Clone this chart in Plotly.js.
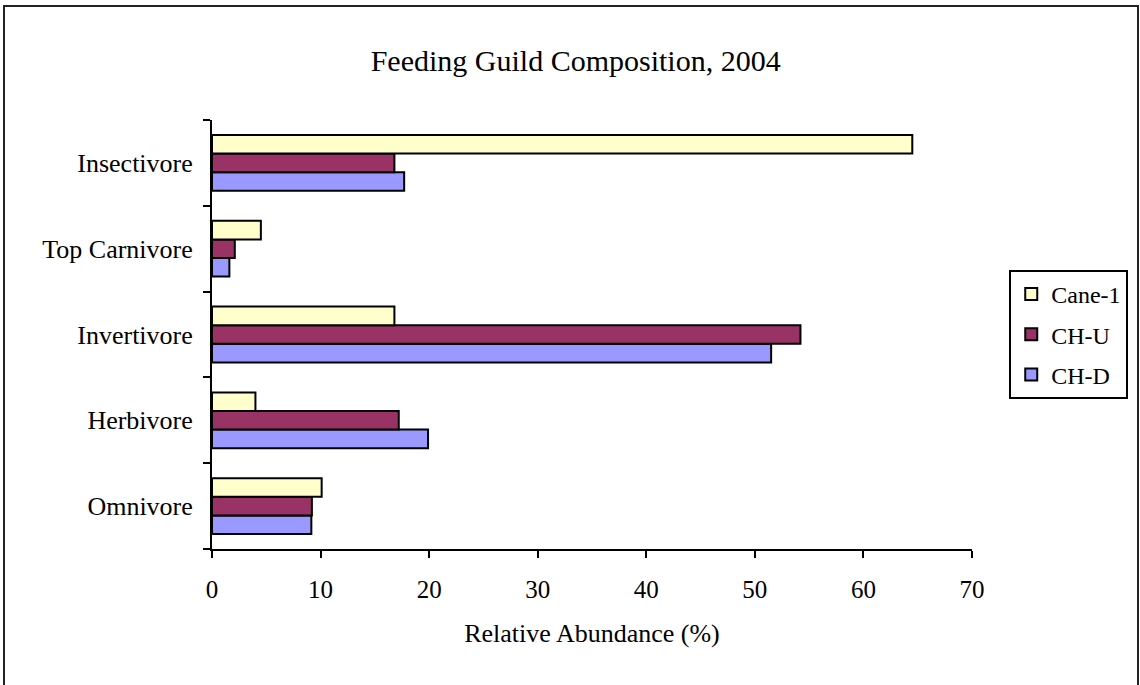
<!DOCTYPE html>
<html>
<head>
<meta charset="utf-8">
<script src="https://cdn.plot.ly/plotly-3.0.1.min.js"></script>
<style>
html,body{margin:0;padding:0;background:#fff;overflow:hidden;}
#chart{width:1140px;height:685px;}
#frame{position:absolute;left:3px;top:5px;width:1132px;height:720px;border:2px solid #222;pointer-events:none;}
</style>
</head>
<body>
<div id="chart"></div>
<div id="frame"></div>
<script>
const categories = ["Omnivore", "Herbivore", "Invertivore", "Top Carnivore", "Insectivore"];
const cane1 = [10.1, 4.0, 16.8, 4.5, 64.5];
const chU = [9.2, 17.2, 54.2, 2.1, 16.8];
const chD = [9.15, 19.9, 51.5, 1.6, 17.7];
const xTicks = [0, 10, 20, 30, 40, 50, 60, 70];

const serif = "Liberation Serif, Times New Roman, serif";
const line = {color: "#000", width: 2};

const traces = [
  {type: "bar", orientation: "h", name: "CH-D", legendgroup: "c", legendrank: 3, y: categories, x: chD, marker: {color: "#9999FF", line: line}},
  {type: "bar", orientation: "h", name: "CH-U", legendgroup: "b", legendrank: 2, y: categories, x: chU, marker: {color: "#993366", line: line}},
  {type: "bar", orientation: "h", name: "Cane-1", legendgroup: "a", legendrank: 1, y: categories, x: cane1, marker: {color: "#FFFFCC", line: line}}
];

const layout = {
  width: 1140, height: 685,
  margin: {l: 212, r: 165, t: 120, b: 136},
  paper_bgcolor: "#fff", plot_bgcolor: "#fff",
  font: {family: serif, color: "#000", size: 26},
  barmode: "group", bargap: 0.35, bargroupgap: 0,
  title: {text: "Feeding Guild Composition, 2004", font: {family: serif, size: 30, color: "#000"}, x: 0.505, xanchor: "center", y: 0.912, yanchor: "middle"},
  xaxis: {
    range: [0, 70], tickvals: xTicks, ticktext: xTicks.map(String),
    showgrid: false, zeroline: false, showline: true, linecolor: "#000", linewidth: 2,
    ticks: "outside", ticklen: 7, tickwidth: 2, tickcolor: "#000",
    ticklabelstandoff: 10, tickfont: {family: serif, size: 25},
    title: {text: "Relative Abundance (%)", font: {family: serif, size: 26}, standoff: 22}
  },
  yaxis: {
    type: "category", categoryorder: "array", categoryarray: categories,
    showgrid: false, zeroline: false, showline: true, linecolor: "#000", linewidth: 2,
    ticks: "outside", ticklen: 7, tickwidth: 2, tickcolor: "#000", tickson: "boundaries",
    ticklabelstandoff: 12, tickfont: {family: serif, size: 26}
  },
  legend: {
    x: 1.049, xanchor: "left", y: 0.5, yanchor: "middle",
    traceorder: "grouped", bordercolor: "#000", borderwidth: 2, bgcolor: "#fff",
    font: {family: serif, size: 24}, itemwidth: 30, tracegroupgap: 6
  },
  showlegend: true
};

Plotly.newPlot("chart", traces, layout, {staticPlot: true});
</script>
</body>
</html>
